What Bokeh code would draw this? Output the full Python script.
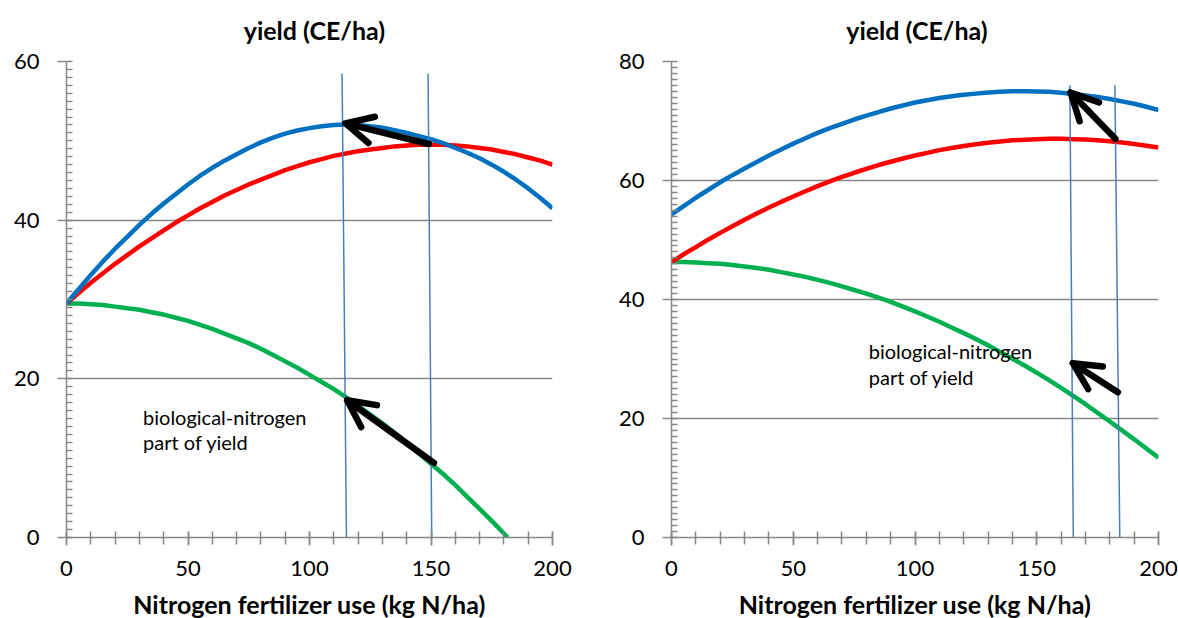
from bokeh.plotting import figure
from bokeh.layouts import row, column
from bokeh.models import FixedTicker, Arrow, OpenHead, Range1d
from bokeh.embed import file_html
from bokeh.resources import INLINE
from bokeh.core.properties import value

FONT = "Lato"

# ---------------- data: left chart ----------------
x_left = [0, 5, 10, 15, 20, 25, 30, 35, 40, 45, 50, 55, 60, 65, 70, 75, 80, 85, 90, 95, 100,
          105, 110, 115, 120, 125, 130, 135, 140, 145, 150, 155, 160, 165, 170, 175, 180, 185, 190, 195, 200]
blue_left = [29.5, 31.3, 33.1, 34.8, 36.4, 37.9, 39.4, 40.8, 42.1, 43.3, 44.5, 45.6, 46.6, 47.5, 48.3,
             49.1, 49.8, 50.4, 50.9, 51.3, 51.6, 51.85, 52.0, 52.05, 52.0, 51.85, 51.65, 51.35, 51.0, 50.6,
             50.2, 49.7, 49.1, 48.5, 47.8, 47.0, 46.1, 45.1, 44.0, 42.8, 41.5]
red_left = [29.5, 30.8, 32.1, 33.3, 34.5, 35.6, 36.7, 37.7, 38.7, 39.7, 40.6, 41.5, 42.3, 43.1, 43.8,
            44.5, 45.1, 45.7, 46.3, 46.8, 47.3, 47.7, 48.1, 48.4, 48.7, 48.9, 49.1, 49.3, 49.4, 49.5,
            49.5, 49.5, 49.4, 49.3, 49.1, 48.9, 48.6, 48.3, 47.9, 47.5, 47.0]
green_left_x = [0, 5, 10, 15, 20, 25, 30, 35, 40, 45, 50, 55, 60, 65, 70, 75, 80, 85, 90, 95, 100,
                105, 110, 115, 120, 125, 130, 135, 140, 145, 150, 155, 160, 165, 170, 175, 180, 181.5]
green_left = [29.5, 29.5, 29.4, 29.3, 29.1, 28.9, 28.7, 28.4, 28.1, 27.7, 27.3, 26.8, 26.3, 25.7, 25.1,
              24.5, 23.8, 23.0, 22.2, 21.4, 20.5, 19.6, 18.7, 17.7, 16.6, 15.5, 14.4, 13.2, 11.9, 10.6,
              9.3, 8.0, 6.6, 5.1, 3.6, 2.1, 0.5, 0.0]
vline_top_x_left = [113.4, 148.8]
vline_top_y_left = [58.5, 58.5]
vline_bot_x_left = [115.2, 150.3]
arrow_x0_left = [149.1, 151.2]
arrow_y0_left = [49.6, 9.4]
arrow_x1_left = [114.8, 115.5]
arrow_y1_left = [52.2, 17.3]
note_x_left = [31.5, 31.5]
note_y_left = [15.25, 12.0]
y_ticks_left = [0, 20, 40, 60]

# ---------------- data: right chart ----------------
x_right = [0, 5, 10, 15, 20, 25, 30, 35, 40, 45, 50, 55, 60, 65, 70, 75, 80, 85, 90, 95, 100,
           105, 110, 115, 120, 125, 130, 135, 140, 145, 150, 155, 160, 165, 170, 175, 180, 185, 190, 195, 200]
blue_right = [54.3, 55.7, 57.1, 58.4, 59.7, 60.9, 62.0, 63.1, 64.2, 65.2, 66.2, 67.1, 68.0, 68.8, 69.5,
              70.25, 70.9, 71.5, 72.1, 72.6, 73.1, 73.5, 73.85, 74.15, 74.4, 74.6, 74.8, 74.9, 75.0, 75.0,
              74.95, 74.9, 74.75, 74.55, 74.3, 74.05, 73.7, 73.3, 72.9, 72.4, 71.85]
red_right = [46.3, 47.6, 48.8, 50.05, 51.2, 52.3, 53.4, 54.45, 55.45, 56.4, 57.3, 58.2, 59.05, 59.85, 60.6,
             61.3, 61.95, 62.6, 63.15, 63.7, 64.2, 64.65, 65.1, 65.45, 65.8, 66.1, 66.35, 66.55, 66.75, 66.85,
             66.95, 67.0, 67.0, 66.95, 66.9, 66.75, 66.6, 66.4, 66.15, 65.85, 65.55]
green_right = [46.3, 46.3, 46.2, 46.1, 46.0, 45.8, 45.55, 45.3, 45.0, 44.6, 44.2, 43.8, 43.3, 42.8, 42.2,
               41.6, 41.0, 40.3, 39.6, 38.8, 38.0, 37.15, 36.25, 35.3, 34.35, 33.35, 32.3, 31.2, 30.05, 28.9,
               27.7, 26.45, 25.15, 23.8, 22.4, 20.95, 19.5, 18.0, 16.5, 14.95, 13.4]
vline_top_x_right = [163.6, 182.1]
vline_top_y_right = [76.0, 76.0]
vline_bot_x_right = [165.0, 184.1]
arrow_x0_right = [182.3, 183.3]
arrow_y0_right = [67.0, 24.4]
arrow_x1_right = [163.9, 164.8]
arrow_y1_right = [74.8, 29.3]
note_x_right = [81.0, 81.0]
note_y_right = [31.4, 27.0]
y_ticks_right = [0, 20, 40, 60, 80]

x_ticks = [0, 50, 100, 150, 200]
x_minor = list(range(0, 201, 10))
note_text = ["biological-nitrogen", "part of yield"]
title_text = ["yield  (CE/ha)", "yield  (CE/ha)"]
xlabel_text = ["Nitrogen fertilizer use (kg N/ha)", "Nitrogen fertilizer use (kg N/ha)"]

BLUE = "#0070C0"
RED = "#FF0000"
GREEN = "#00B050"
VLINE = "#4A7EBB"
GRAY = "#888888"

TOP_H = 45
BOT_H = 30
CHART_H = 618 - TOP_H - BOT_H
W_LEFT, BL_LEFT, BR_LEFT = 590, 66, 38
W_RIGHT, BL_RIGHT, BR_RIGHT = 588, 81, 20
TOTAL_W = W_LEFT + W_RIGHT


def make_chart(width, bl, br, x, blue, red, gx, green, yticks,
               vtx, vty, vbx, ax0, ay0, ax1, ay1, nx, ny):
    ymax = yticks[-1]
    p = figure(width=width, height=CHART_H, output_backend="svg", toolbar_location=None,
               x_range=Range1d(0, 200), y_range=Range1d(0, ymax),
               min_border_left=bl, min_border_right=br, min_border_top=16, min_border_bottom=51)
    p.outline_line_color = None

    p.xgrid.grid_line_color = None
    p.ygrid.grid_line_color = GRAY
    p.ygrid.grid_line_width = 1.5

    p.xaxis.ticker = FixedTicker(ticks=x_ticks, minor_ticks=x_minor)
    p.yaxis.ticker = FixedTicker(ticks=yticks, minor_ticks=list(range(0, ymax + 1)))
    for ax in (p.xaxis, p.yaxis):
        ax.axis_line_color = GRAY
        ax.axis_line_width = 1.5
        ax.major_tick_line_color = GRAY
        ax.major_tick_line_width = 1.5
        ax.minor_tick_line_color = GRAY
        ax.minor_tick_line_width = 1.5
        ax.major_label_text_font = FONT
        ax.major_label_text_font_size = "22px"
        ax.major_label_text_color = "black"
    p.xaxis.major_tick_in = 6
    p.xaxis.major_tick_out = 8
    p.xaxis.minor_tick_in = 6
    p.xaxis.minor_tick_out = 7
    p.xaxis.major_label_standoff = 15

    p.yaxis.major_tick_in = 0
    p.yaxis.major_tick_out = 9
    p.yaxis.minor_tick_in = 6
    p.yaxis.minor_tick_out = 0
    p.yaxis.major_label_standoff = 18

    p.line(gx, green, line_color=GREEN, line_width=4.5)
    p.line(x, red, line_color=RED, line_width=4.5)
    p.line(x, blue, line_color=BLUE, line_width=4.5)

    p.segment(x0=vtx, y0=vty, x1=vbx, y1=[0] * len(vbx), line_color=VLINE, line_width=1.5)

    for i in range(len(ax0)):
        p.add_layout(Arrow(end=OpenHead(size=27, line_width=6.5, line_color="black",
                                        line_cap="round", line_join="round"),
                           x_start=ax0[i], y_start=ay0[i], x_end=ax1[i], y_end=ay1[i],
                           line_width=6.5, line_color="black", line_cap="round"))

    p.text(x=nx, y=ny, text=note_text, text_font=value(FONT), text_font_size="20px",
           text_color="black", text_baseline="middle", text_align="left")
    return p


def make_strip(height, texts, xs, y, size):
    s = figure(width=TOTAL_W, height=height, output_backend="svg", toolbar_location=None,
               x_range=Range1d(0, TOTAL_W), y_range=Range1d(0, height),
               min_border=0, min_border_left=0, min_border_right=0,
               min_border_top=0, min_border_bottom=0)
    s.axis.visible = False
    s.grid.visible = False
    s.outline_line_color = None
    s.text(x=xs, y=[y] * len(xs), text=texts, text_font=value(FONT),
           text_font_size=size, text_font_style="bold", text_color="black",
           text_align="center", text_baseline="middle")
    return s


left = make_chart(W_LEFT, BL_LEFT, BR_LEFT, x_left, blue_left, red_left, green_left_x, green_left,
                  y_ticks_left, vline_top_x_left, vline_top_y_left, vline_bot_x_left,
                  arrow_x0_left, arrow_y0_left, arrow_x1_left, arrow_y1_left,
                  note_x_left, note_y_left)
right = make_chart(W_RIGHT, BL_RIGHT, BR_RIGHT, x_right, blue_right, red_right, x_right, green_right,
                   y_ticks_right, vline_top_x_right, vline_top_y_right, vline_bot_x_right,
                   arrow_x0_right, arrow_y0_right, arrow_x1_right, arrow_y1_right,
                   note_x_right, note_y_right)

frame_centres = [BL_LEFT + (W_LEFT - BL_LEFT - BR_LEFT) / 2,
                 W_LEFT + BL_RIGHT + (W_RIGHT - BL_RIGHT - BR_RIGHT) / 2]
title_x = [frame_centres[0] + 8, frame_centres[1] + 5]

top = make_strip(TOP_H, title_text, title_x, TOP_H - 29, "25px")
bottom = make_strip(BOT_H, xlabel_text, frame_centres, BOT_H / 2, "25px")

layout = column(top, row(left, right), bottom)
open("out.html", "w").write(file_html(layout, INLINE))
